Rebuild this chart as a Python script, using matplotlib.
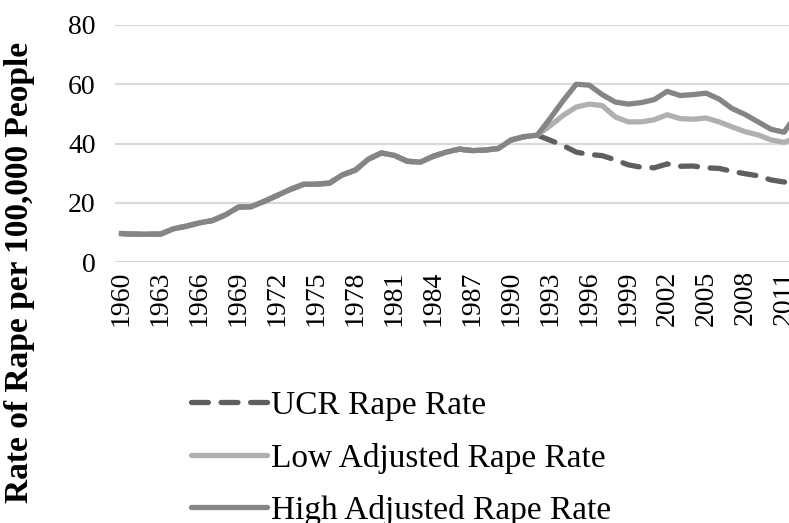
import matplotlib.pyplot as plt
from matplotlib.lines import Line2D
import numpy as np

plt.rcParams['font.family'] = ['Liberation Serif', 'DejaVu Serif']

years = list(range(1960, 2013))

# UCR rate per 100,000 (shared by all three series until 1992)
ucr_rate = [9.6, 9.4, 9.4, 9.4, 11.2, 12.1, 13.2, 14.0, 15.9, 18.5,
            18.7, 20.5, 22.5, 24.5, 26.2, 26.3, 26.6, 29.4, 31.0, 34.7,
            36.8, 36.0, 34.0, 33.7, 35.7, 37.1, 38.1, 37.6, 37.8, 38.3,
            41.2, 42.3, 42.8, 41.1, 39.3, 37.1, 36.3, 35.9, 34.5, 32.8,
            32.0, 31.8, 33.1, 32.3, 32.4, 31.8, 31.6, 30.6, 29.8, 29.1,
            27.7, 27.0, 26.9]

# adjusted series from 1992 onwards
low_adj_tail = [42.8, 46.0, 49.5, 52.3, 53.3, 52.8, 49.0, 47.3, 47.3, 48.0,
                49.7, 48.4, 48.2, 48.6, 47.3, 45.6, 44.0, 42.9, 41.2, 40.4, 42.0]
high_adj_tail = [42.8, 48.5, 54.5, 60.0, 59.7, 56.5, 54.0, 53.3, 53.8, 54.8,
                 57.6, 56.2, 56.5, 57.0, 55.0, 51.8, 49.8, 47.3, 44.8, 43.8, 50.0]

split = years.index(1992)
low_adj = ucr_rate[:split] + low_adj_tail
high_adj = ucr_rate[:split] + high_adj_tail

tick_years = years[::3]
y_ticks = [0, 20, 40, 60, 80]

W, H = 789, 523
fig = plt.figure(figsize=(W / 100, H / 100), dpi=100)
ax = fig.add_axes([115 / W, 1 - 262 / H, 1 - 115 / W, (262 - 25) / H])

c_ucr = '#5f5f5f'
c_low = '#b0b0b0'
c_high = '#858585'
lw = 3.8
dash = (0, (3.2, 2.4))

ax.plot(years, ucr_rate, color=c_ucr, lw=lw, linestyle=dash,
        dash_capstyle='round', solid_capstyle='round')
ax.plot(years, low_adj, color=c_low, lw=lw, solid_joinstyle='round')
ax.plot(years, high_adj, color=c_high, lw=lw, solid_joinstyle='round')

ax.set_xlim(1959.5, 2011.38)
ax.set_ylim(0, 80)
ax.set_yticks(y_ticks)
ax.set_xticks(tick_years)
ax.set_xticklabels([str(y) for y in tick_years], rotation=90, fontsize=20)
ax.tick_params(axis='y', labelsize=20, length=0, pad=14)
ax.tick_params(axis='x', length=0, pad=6)
ax.grid(axis='y', color='#d9d9d9', lw=1.6)
ax.set_axisbelow(True)
for s in ax.spines.values():
    s.set_visible(False)

fig.text(20 / W, 1 - 272 / H, 'Rate of Rape per 100,000 People', rotation=90,
         ha='center', va='center', fontsize=24, fontweight='bold')

handles = [
    Line2D([], [], color=c_ucr, lw=lw, linestyle=dash, dash_capstyle='round'),
    Line2D([], [], color=c_low, lw=lw, solid_capstyle='round'),
    Line2D([], [], color=c_high, lw=lw, solid_capstyle='round'),
]
labels = ['UCR Rape Rate', 'Low Adjusted Rape Rate', 'High Adjusted Rape Rate']
fig.legend(handles, labels, loc='upper left', bbox_to_anchor=(174 / W, 1 - 374 / H),
           frameon=False, fontsize=24, handlelength=2.3, handletextpad=0.12,
           labelspacing=0.64, borderpad=0)

plt.savefig('out.png', dpi=100)
